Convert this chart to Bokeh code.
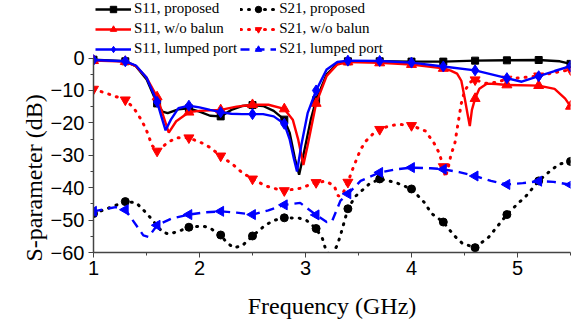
import numpy as np
from bokeh.plotting import figure
from bokeh.models import (Range1d, FixedTicker, Legend, LegendItem,
                          ColumnDataSource, Title)
from bokeh.embed import file_html
from bokeh.resources import INLINE

# ---- measured S-parameters (dB) versus frequency (GHz) ----
s11_prop_f = [1.0, 1.3, 1.4, 1.5, 1.6, 1.65, 1.7, 1.8, 1.9, 2.0, 2.1, 2.2, 2.3, 2.4,
              2.5, 2.6, 2.7, 2.8, 2.85, 2.9, 2.94, 2.98, 3.05, 3.1, 3.2, 3.3, 3.4,
              3.7, 4.0, 4.3, 4.6, 4.9, 5.2, 5.4, 5.5]
s11_prop_db = [-0.5, -1.0, -2.5, -6.5, -14.0, -16.5, -17.0, -15.8, -15.5, -16.5, -17.8,
               -18.0, -16.0, -14.8, -14.5, -14.8, -16.3, -19.0, -23.0, -31.0, -36.0,
               -30.0, -19.0, -13.0, -5.0, -1.8, -1.0, -1.0, -1.1, -1.1, -0.8, -0.7,
               -0.6, -1.0, -1.8]

s11_nobal_f = [1.0, 1.3, 1.4, 1.5, 1.6, 1.65, 1.71, 1.78, 1.9, 2.0, 2.2, 2.35, 2.5,
               2.65, 2.8, 2.88, 2.93, 2.98, 3.02, 3.1, 3.2, 3.3, 3.4, 3.7, 4.0, 4.3,
               4.37, 4.43, 4.47, 4.5, 4.53, 4.55, 4.57, 4.6, 4.64, 4.71, 4.8, 4.9,
               5.2, 5.35, 5.45, 5.5]
s11_nobal_db = [-0.8, -1.1, -2.5, -6.0, -12.0, -17.0, -23.0, -19.5, -16.7, -16.3,
                -16.0, -15.0, -14.4, -14.4, -15.7, -19.0, -25.0, -33.0, -27.0, -14.0,
                -5.5, -2.0, -1.2, -1.5, -2.0, -3.2, -3.9, -4.8, -7.0, -12.0, -17.5,
                -21.0, -16.0, -12.5, -9.5, -7.9, -8.0, -8.3, -8.5, -9.5, -12.5, -14.9]

s11_lump_f = [1.0, 1.3, 1.4, 1.5, 1.6, 1.64, 1.68, 1.73, 1.8, 1.9, 2.0, 2.1, 2.2, 2.3,
              2.4, 2.5, 2.6, 2.7, 2.8, 2.85, 2.89, 2.92, 2.96, 3.02, 3.1, 3.2, 3.3,
              3.4, 3.7, 4.0, 4.3, 4.6, 4.9, 5.04, 5.2, 5.35, 5.5]
s11_lump_db = [-0.6, -1.0, -2.3, -6.0, -13.5, -18.0, -22.3, -19.0, -15.5, -14.7, -15.2,
               -16.0, -16.7, -17.2, -17.3, -17.3, -17.3, -18.0, -20.3, -25.0, -31.0,
               -35.0, -27.0, -17.0, -10.0, -3.5, -1.2, -0.8, -0.9, -1.4, -2.6, -3.8,
               -6.2, -7.3, -5.6, -4.0, -2.5]

s21_prop_f = [1.0, 1.15, 1.3, 1.4, 1.46, 1.53, 1.65, 1.71, 1.8, 1.9, 2.03, 2.1, 2.2,
              2.25, 2.32, 2.4, 2.5, 2.62, 2.7, 2.8, 2.94, 3.01, 3.1, 3.16, 3.19, 3.24,
              3.3, 3.33, 3.4, 3.47, 3.6, 3.7, 3.85, 4.0, 4.12, 4.19, 4.3, 4.4, 4.48,
              4.6, 4.73, 4.9, 5.0, 5.08, 5.2, 5.31, 5.39, 5.5]
s21_prop_db = [-48.0, -46.2, -44.3, -44.6, -46.5, -49.0, -53.7, -54.3, -53.5, -52.2,
               -51.8, -52.5, -54.6, -56.7, -58.5, -58.0, -54.9, -51.6, -50.1, -49.3,
               -49.4, -50.1, -52.6, -55.7, -59.0, -61.5, -57.7, -54.7, -46.5, -42.7,
               -38.9, -37.3, -38.4, -40.4, -44.5, -48.0, -50.6, -54.7, -57.2, -58.5,
               -55.2, -48.3, -45.0, -42.6, -37.9, -34.8, -32.8, -31.9]

s21_nobal_f = [1.0, 1.16, 1.3, 1.38, 1.44, 1.49, 1.52, 1.55, 1.6, 1.7, 1.78, 1.9,
               2.03, 2.1, 2.2, 2.32, 2.4, 2.5, 2.62, 2.7, 2.8, 2.95, 3.1, 3.19, 3.27,
               3.31, 3.35, 3.4, 3.45, 3.52, 3.57, 3.63, 3.7, 3.8, 3.9, 4.0, 4.13, 4.21,
               4.26, 4.3, 4.32, 4.35, 4.37, 4.41, 4.43, 4.45, 4.47, 4.5, 4.55, 4.6,
               4.7, 4.8, 4.9, 5.05, 5.2, 5.35, 5.5]
s21_nobal_db = [-9.6, -11.3, -12.9, -15.4, -18.5, -21.5, -24.0, -26.9, -28.7, -26.1,
                -24.6, -24.6, -26.3, -27.6, -30.2, -33.0, -35.3, -37.3, -39.4, -40.2,
                -40.9, -40.2, -38.4, -38.0, -39.4, -42.6, -42.0, -38.3, -33.8, -28.2,
                -25.6, -23.6, -22.0, -20.8, -20.5, -20.8, -22.5, -26.1, -29.2, -33.5,
                -36.8, -33.3, -30.2, -26.1, -22.0, -18.0, -14.0, -10.3, -7.5, -6.7,
                -7.8, -7.5, -6.5, -6.0, -5.5, -4.5, -3.6]

s21_lump_f = [1.0, 1.21, 1.3, 1.36, 1.47, 1.52, 1.6, 1.73, 1.9, 2.05, 2.2, 2.35, 2.5,
              2.65, 2.8, 2.95, 3.1, 3.2, 3.25, 3.33, 3.4, 3.52, 3.7, 3.86, 4.0, 4.18,
              4.3, 4.45, 4.6, 4.75, 4.9, 5.05, 5.2, 5.34, 5.5]
s21_lump_db = [-47.3, -46.0, -46.8, -49.6, -54.7, -55.2, -51.6, -49.6, -48.3, -47.6,
               -47.3, -47.7, -48.3, -47.0, -45.3, -44.7, -48.4, -50.6, -50.4, -44.0,
               -41.9, -37.9, -35.3, -34.3, -33.8, -34.0, -34.3, -35.2, -36.4, -37.9,
               -39.0, -38.6, -38.0, -38.2, -39.1]

# frequencies at which the symbols are placed
marker_freqs = [1.0, 1.3, 1.6, 1.9, 2.2, 2.5, 2.8, 3.1, 3.4, 3.7, 4.0, 4.3, 4.6,
                4.9, 5.2, 5.5]

x_ticks = [1, 2, 3, 4, 5]
x_minor = [1.5, 2.5, 3.5, 4.5, 5.5]
y_ticks = [-60, -50, -40, -30, -20, -10, 0]
y_minor = [-55, -45, -35, -25, -15, -5]

SERIF = "Liberation Serif"
SANS = "Liberation Sans"
TITLE_FONT = "Liberation Serif, serif"

# the data area ends at 0 dB; the strip above it holds the legend
p = figure(width=574, height=321, output_backend="svg", toolbar_location=None,
           x_range=Range1d(1, 5.5), y_range=Range1d(-60, 17.76),
           min_border_left=93, min_border_right=4, min_border_top=0,
           min_border_bottom=67)
p.outline_line_color = None
p.grid.visible = False
p.background_fill_color = "white"
p.border_fill_color = "white"


def series(f, db, color, dash, marker, msize, angle=0.0):
    f = np.asarray(f, dtype=float)
    db = np.asarray(db, dtype=float)
    if dash == "dotted":
        line = p.line(f, db, line_color=color, line_width=3, line_dash="1 7",
                      line_cap="round")
    else:
        line = p.line(f, db, line_color=color, line_width=2.4, line_dash=dash)
    sel = np.isin(np.round(f, 2), np.round(marker_freqs, 2))
    src = ColumnDataSource(dict(x=f[sel], y=db[sel]))
    mk = p.scatter("x", "y", source=src, marker=marker, size=msize,
                   fill_color=color, line_color=color, angle=angle)
    return [line, mk]


r_s21_prop = series(s21_prop_f, s21_prop_db, "black", "dotted", "circle", 8)
r_s21_nobal = series(s21_nobal_f, s21_nobal_db, "red", "dotted", "inverted_triangle", 10)
r_s21_lump = series(s21_lump_f, s21_lump_db, "blue", "9 6", "triangle", 10,
                    angle=np.pi / 2)
r_s11_prop = series(s11_prop_f, s11_prop_db, "black", "solid", "square", 7)
r_s11_nobal = series(s11_nobal_f, s11_nobal_db, "red", "solid", "triangle", 10)
r_s11_lump = series(s11_lump_f, s11_lump_db, "blue", "solid", "diamond", 11)

p.xaxis.ticker = FixedTicker(ticks=x_ticks, minor_ticks=x_minor)
p.yaxis.ticker = FixedTicker(ticks=y_ticks, minor_ticks=y_minor)
p.yaxis.bounds = (-60, 0)

for ax in (p.xaxis[0], p.yaxis[0]):
    ax.axis_line_color = "#444444"
    ax.axis_line_width = 1.5
    ax.major_tick_line_color = "#444444"
    ax.minor_tick_line_color = "#444444"
    ax.major_tick_in = 0
    ax.major_tick_out = 5
    ax.minor_tick_in = 0
    ax.minor_tick_out = 3
    ax.major_label_text_font = SANS
    ax.major_label_text_font_size = "20px"
    ax.major_label_text_color = "black"

p.xaxis.major_label_standoff = 3
p.yaxis.major_label_standoff = 4

p.xaxis.axis_label = "Frequency (GHz)"
p.xaxis.axis_label_text_font = TITLE_FONT
p.xaxis.axis_label_text_font_size = "24px"
p.xaxis.axis_label_text_font_style = "normal"
p.xaxis.axis_label_text_color = "black"
p.xaxis.axis_label_standoff = 15

# vertical axis title, starting at the bottom of the data area
ytitle = Title(text="S-parameter (dB)", align="left", offset=-9, standoff=1,
               text_font=TITLE_FONT, text_font_size="24px",
               text_font_style="normal", text_color="black")
p.add_layout(ytitle, "left")

# two legend columns, filled top to bottom
legend = Legend(items=[
    LegendItem(label="S11, proposed", renderers=r_s11_prop),
    LegendItem(label="S11, w/o balun", renderers=r_s11_nobal),
    LegendItem(label="S11, lumped port", renderers=r_s11_lump),
    LegendItem(label="S21, proposed", renderers=r_s21_prop),
    LegendItem(label="S21, w/o balun", renderers=r_s21_nobal),
    LegendItem(label="S21, lumped port", renderers=r_s21_lump),
], ncols=2, location=(2, 195))
legend.label_text_font = SERIF
legend.label_text_font_size = "15px"
legend.label_text_color = "black"
legend.glyph_width = 36
legend.glyph_height = 16
legend.label_height = 16
legend.label_standoff = 3
legend.spacing = 3
legend.padding = 0
legend.margin = 0
legend.border_line_color = None
legend.background_fill_alpha = 0
p.add_layout(legend, "center")

open("out.html", "w").write(file_html(p, INLINE))
